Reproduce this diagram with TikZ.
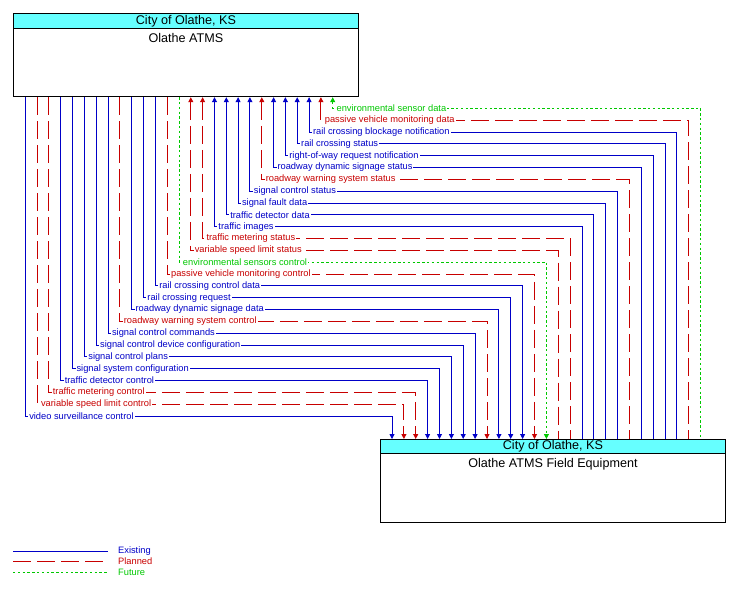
\documentclass[tikz,border=0pt]{standalone}
\usepackage{fontspec}
\setmainfont{Liberation Sans}
\usepackage{tikz}
\usetikzlibrary{positioning, arrows.meta}
\usepackage{xcolor}
\definecolor{hdrcyan}{RGB}{102,255,255}
\definecolor{exblue}{RGB}{0,0,200}
\definecolor{plred}{RGB}{200,0,0}
\definecolor{fugreen}{RGB}{0,200,0}

\begin{document}
\begin{tikzpicture}[x=1pt, y=-1pt, >={Triangle[length=5pt,width=5pt]}]

  \tikzstyle{sysbox} = [rectangle, draw, line width=0.9pt, minimum width=344.4pt, inner sep=0pt, anchor=north west];
  \tikzstyle{hdr} = [sysbox, fill=hdrcyan, minimum height=14.4pt, font=\fontsize{12.6}{14}\selectfont];
  \tikzstyle{existing} = [color=exblue, line width=0.9pt];
  \tikzstyle{planned} = [color=plred, line width=0.9pt, dash pattern=on 18pt off 6pt];
  \tikzstyle{future} = [color=fugreen, line width=0.9pt, dash pattern=on 2.4pt off 2.4pt];
  \tikzstyle{flowlbl} = [pos=0.5, anchor=west, xshift=2.5pt, fill=white, inner sep=1pt, font=\fontsize{9.3}{11}\selectfont];

  \useasboundingbox (0,0) rectangle (733,589);

  \node[sysbox, minimum height=83pt] (atms) at (13.3,13.3) {};
  \node[hdr] (atmshdr) at (13.3,13.3) {City of Olathe, KS};
  \node[below=1pt of atmshdr, font=\fontsize{12.6}{14}\selectfont] (atmsname) {Olathe ATMS};

  \node[sysbox, minimum height=83pt] (fe) at (380.3,439) {};
  \node[hdr] (fehdr) at (380.3,439) {City of Olathe, KS};
  \node[below=1pt of fehdr, font=\fontsize{12.6}{14}\selectfont] (fename) {Olathe ATMS Field Equipment};

  \draw[existing,->] ([xshift=12pt]atms.south west) |- node[flowlbl] {video surveillance control} ([xshift=11.7pt,yshift=23pt]fe.north west) -- ([xshift=11.7pt]fe.north west);
  \draw[planned,->] ([xshift=23.8pt]atms.south west) |- node[flowlbl] {variable speed limit control} ([xshift=23.6pt,yshift=34.8pt]fe.north west) -- ([xshift=23.6pt]fe.north west);
  \draw[planned,->] ([xshift=35.6pt]atms.south west) |- node[flowlbl] {traffic metering control} ([xshift=35.4pt,yshift=46.7pt]fe.north west) -- ([xshift=35.4pt]fe.north west);
  \draw[existing,->] ([xshift=47.5pt]atms.south west) |- node[flowlbl] {traffic detector control} ([xshift=47.3pt,yshift=58.5pt]fe.north west) -- ([xshift=47.3pt]fe.north west);
  \draw[existing,->] ([xshift=59.3pt]atms.south west) |- node[flowlbl] {signal system configuration} ([xshift=59.2pt,yshift=70.3pt]fe.north west) -- ([xshift=59.2pt]fe.north west);
  \draw[existing,->] ([xshift=71.1pt]atms.south west) |- node[flowlbl] {signal control plans} ([xshift=71.1pt,yshift=82.2pt]fe.north west) -- ([xshift=71.1pt]fe.north west);
  \draw[existing,->] ([xshift=82.9pt]atms.south west) |- node[flowlbl] {signal control device configuration} ([xshift=82.9pt,yshift=94pt]fe.north west) -- ([xshift=82.9pt]fe.north west);
  \draw[existing,->] ([xshift=94.8pt]atms.south west) |- node[flowlbl] {signal control commands} ([xshift=94.8pt,yshift=105.8pt]fe.north west) -- ([xshift=94.8pt]fe.north west);
  \draw[planned,->] ([xshift=106.6pt]atms.south west) |- node[flowlbl] {roadway warning system control} ([xshift=106.7pt,yshift=117.7pt]fe.north west) -- ([xshift=106.7pt]fe.north west);
  \draw[existing,->] ([xshift=118.4pt]atms.south west) |- node[flowlbl] {roadway dynamic signage data} ([xshift=118.6pt,yshift=129.5pt]fe.north west) -- ([xshift=118.6pt]fe.north west);
  \draw[existing,->] ([xshift=130.2pt]atms.south west) |- node[flowlbl] {rail crossing request} ([xshift=130.4pt,yshift=141.4pt]fe.north west) -- ([xshift=130.4pt]fe.north west);
  \draw[existing,->] ([xshift=142.1pt]atms.south west) |- node[flowlbl] {rail crossing control data} ([xshift=142.3pt,yshift=153.2pt]fe.north west) -- ([xshift=142.3pt]fe.north west);
  \draw[planned,->] ([xshift=153.9pt]atms.south west) |- node[flowlbl] {passive vehicle monitoring control} ([xshift=154.2pt,yshift=165pt]fe.north west) -- ([xshift=154.2pt]fe.north west);
  \draw[future,->] ([xshift=165.7pt]atms.south west) |- node[flowlbl] {environmental sensors control} ([xshift=166.1pt,yshift=176.9pt]fe.north west) -- ([xshift=166.1pt]fe.north west);
  \draw[planned,<-] ([xshift=177.5pt]atms.south west) |- node[flowlbl] {variable speed limit status} ([xshift=177.9pt,yshift=188.7pt]fe.north west) -- ([xshift=177.9pt]fe.north west);
  \draw[planned,<-] ([xshift=189.3pt]atms.south west) |- node[flowlbl] {traffic metering status} ([xshift=189.8pt,yshift=200.5pt]fe.north west) -- ([xshift=189.8pt]fe.north west);
  \draw[existing,<-] ([xshift=201.2pt]atms.south west) |- node[flowlbl] {traffic images} ([xshift=201.7pt,yshift=212.4pt]fe.north west) -- ([xshift=201.7pt]fe.north west);
  \draw[existing,<-] ([xshift=213pt]atms.south west) |- node[flowlbl] {traffic detector data} ([xshift=213.5pt,yshift=224.2pt]fe.north west) -- ([xshift=213.5pt]fe.north west);
  \draw[existing,<-] ([xshift=224.8pt]atms.south west) |- node[flowlbl] {signal fault data} ([xshift=225.4pt,yshift=236pt]fe.north west) -- ([xshift=225.4pt]fe.north west);
  \draw[existing,<-] ([xshift=236.6pt]atms.south west) |- node[flowlbl] {signal control status} ([xshift=237.3pt,yshift=247.9pt]fe.north west) -- ([xshift=237.3pt]fe.north west);
  \draw[planned,<-] ([xshift=248.5pt]atms.south west) |- node[flowlbl] {roadway warning system status} ([xshift=249.2pt,yshift=259.7pt]fe.north west) -- ([xshift=249.2pt]fe.north west);
  \draw[existing,<-] ([xshift=260.3pt]atms.south west) |- node[flowlbl] {roadway dynamic signage status} ([xshift=261pt,yshift=271.5pt]fe.north west) -- ([xshift=261pt]fe.north west);
  \draw[existing,<-] ([xshift=272.1pt]atms.south west) |- node[flowlbl] {right-of-way request notification} ([xshift=272.9pt,yshift=283.4pt]fe.north west) -- ([xshift=272.9pt]fe.north west);
  \draw[existing,<-] ([xshift=283.9pt]atms.south west) |- node[flowlbl] {rail crossing status} ([xshift=284.8pt,yshift=295.2pt]fe.north west) -- ([xshift=284.8pt]fe.north west);
  \draw[existing,<-] ([xshift=295.8pt]atms.south west) |- node[flowlbl] {rail crossing blockage notification} ([xshift=296.6pt,yshift=307pt]fe.north west) -- ([xshift=296.6pt]fe.north west);
  \draw[planned,<-] ([xshift=307.6pt]atms.south west) |- node[flowlbl] {passive vehicle monitoring data} ([xshift=308.5pt,yshift=318.9pt]fe.north west) -- ([xshift=308.5pt]fe.north west);
  \draw[future,<-] ([xshift=319.4pt]atms.south west) |- node[flowlbl] {environmental sensor data} ([xshift=320.4pt,yshift=330.7pt]fe.north west) -- ([xshift=320.4pt]fe.north west);

  \coordinate (exstart) at (13,551.3);
  \coordinate (plstart) at (13,561.3);
  \coordinate (fustart) at (13,572.3);
  \draw[existing] (exstart) -- ++(94.7,0) node[anchor=west, xshift=10pt, inner sep=0pt, font=\fontsize{9.3}{11}\selectfont] (exlbl) {Existing};
  \draw[planned] (plstart) -- ++(94.7,0) node[anchor=west, xshift=10pt, inner sep=0pt, font=\fontsize{9.3}{11}\selectfont] (pllbl) {Planned};
  \draw[future] (fustart) -- ++(94.7,0) node[anchor=west, xshift=10pt, inner sep=0pt, font=\fontsize{9.3}{11}\selectfont] (fulbl) {Future};
\end{tikzpicture}
\end{document}
